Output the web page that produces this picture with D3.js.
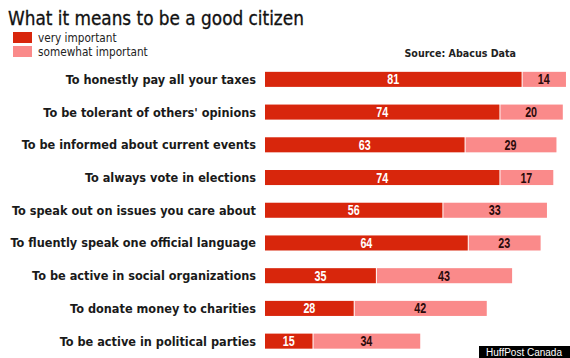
<!DOCTYPE html>
<html><head><meta charset="utf-8">
<script src="https://cdn.jsdelivr.net/npm/d3@7"></script>
<style>body{margin:0;background:#fff}svg{display:block}</style>
</head><body>
<script>
const categories = [
  "To honestly pay all your taxes",
  "To be tolerant of others' opinions",
  "To be informed about current events",
  "To always vote in elections",
  "To speak out on issues you care about",
  "To fluently speak one official language",
  "To be active in social organizations",
  "To donate money to charities",
  "To be active in political parties"
];
const veryImportant = [81, 74, 63, 74, 56, 64, 35, 28, 15];
const somewhatImportant = [14, 20, 29, 17, 33, 23, 43, 42, 34];
const seriesNames = ["very important", "somewhat important"];
const colors = ["#d8260c", "#fa8a8a"];

const W = 570, H = 358;
const svg = d3.select("body").append("svg").attr("width", W).attr("height", H);

const x = d3.scaleLinear().domain([0, 100]).range([265, 265 + 316.8]);
const y = d3.scaleBand().domain(categories).range([63, 357.5]).paddingInner(0.54).paddingOuter(0.27);

const labelFont = "'DejaVu Sans Condensed', sans-serif";
const numFont = "'Liberation Sans', Arial, sans-serif";

// title
svg.append("text").attr("x", 8).attr("y", 24.5)
  .attr("font-family", labelFont).attr("font-size", 18.8)
  .attr("fill", "#111").attr("stroke", "#111").attr("stroke-width", 0.3)
  .text("What it means to be a good citizen");

// legend
seriesNames.forEach((n, i) => {
  svg.append("rect").attr("x", 13).attr("y", 32 + i * 14).attr("width", 19).attr("height", 11).attr("fill", colors[i]);
  svg.append("text").attr("x", 38).attr("y", 41.5 + i * 14)
    .attr("font-family", labelFont).attr("font-size", 11.7).attr("fill", "#222").text(n);
});
svg.append("text").attr("x", 516).attr("y", 57).attr("text-anchor", "end")
  .attr("font-family", labelFont).attr("font-size", 10.6).attr("font-weight", "bold").attr("fill", "#222")
  .text("Source: Abacus Data");

const rows = categories.map((c, i) => ({c, v: veryImportant[i], s: somewhatImportant[i]}));
const g = svg.append("g");
const row = g.selectAll("g.row").data(rows).join("g").attr("class", "row");

row.append("text").attr("x", 256).attr("y", d => y(d.c) + y.bandwidth() / 2 + 4.5)
  .attr("text-anchor", "end").attr("font-family", labelFont).attr("font-size", 12.6)
  .attr("font-weight", "bold").attr("fill", "#1a1a1a").text(d => d.c);

row.append("rect").attr("x", x(0)).attr("y", d => y(d.c))
  .attr("width", d => x(d.v) - x(0)).attr("height", y.bandwidth()).attr("fill", colors[0]);
row.append("rect").attr("x", d => x(d.v) + 1).attr("y", d => y(d.c))
  .attr("width", d => x(d.v + d.s) - x(d.v) - 1).attr("height", y.bandwidth()).attr("fill", colors[1]);

function num(sel, cx, val, fill) {
  sel.append("text")
    .attr("transform", d => `translate(${cx(d)},${y(d.c) + y.bandwidth() / 2 + 5}) scale(0.74,1)`)
    .attr("text-anchor", "middle").attr("font-family", numFont).attr("font-size", 14.5).attr("font-weight", "bold")
    .attr("fill", fill).text(val);
}
num(row, d => (x(0) + x(d.v)) / 2, d => d.v, "#fff");
num(row, d => (x(d.v) + x(d.v + d.s)) / 2, d => d.s, "#2a0a0a");

// credit
svg.append("rect").attr("x", 479).attr("y", 346).attr("width", 91).attr("height", 12).attr("fill", "#000");
svg.append("text").attr("x", 524).attr("y", 356).attr("text-anchor", "middle")
  .attr("font-family", "'Liberation Sans', Arial, sans-serif").attr("font-size", 10).attr("fill", "#fff")
  .text("HuffPost Canada");
</script>
</body></html>
